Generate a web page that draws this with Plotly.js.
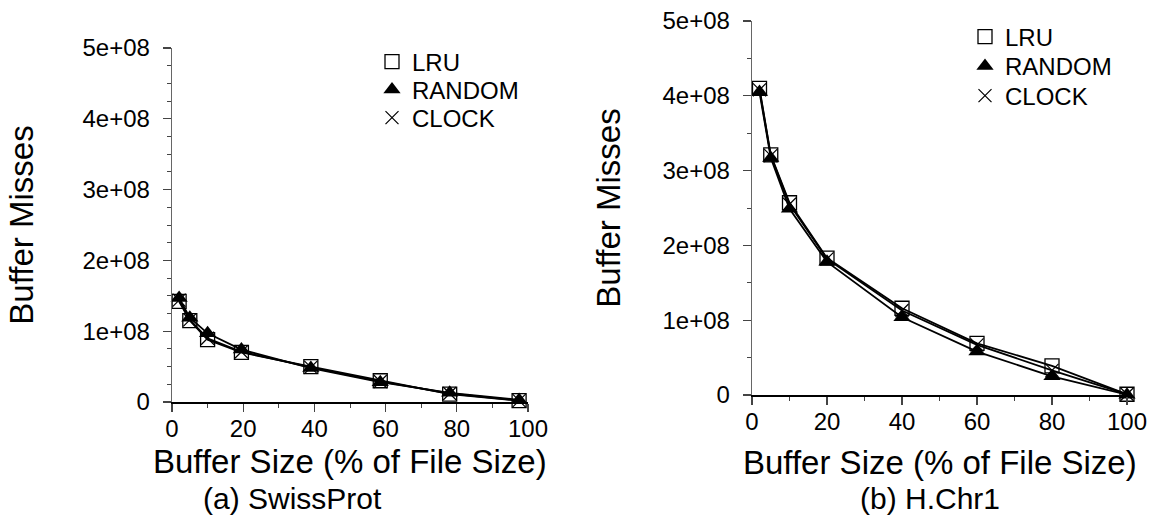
<!DOCTYPE html>
<html>
<head>
<meta charset="utf-8">
<script src="https://cdn.plot.ly/plotly-3.0.1.min.js"></script>
<style>html,body{margin:0;padding:0;background:#fff;}#chart{width:1160px;height:529px;}</style>
</head>
<body>
<div id="chart"></div>
<script>
// Panel (a) SwissProt
const swissX = [2, 5, 10, 19.5, 39, 58.5, 78, 97.5];
const swissLRU    = [1.42e8, 1.15e8, 0.88e8, 0.70e8, 0.50e8, 0.30e8, 0.11e8, 0.02e8];
const swissRANDOM = [1.47e8, 1.19e8, 0.97e8, 0.74e8, 0.48e8, 0.28e8, 0.13e8, 0.03e8];
const swissCLOCK  = [1.44e8, 1.16e8, 0.90e8, 0.71e8, 0.49e8, 0.29e8, 0.12e8, 0.02e8];
// Panel (b) H.Chr1
const chrX = [2, 5, 10, 20, 40, 60, 80, 100];
const chrLRU    = [4.10e8, 3.21e8, 2.57e8, 1.83e8, 1.16e8, 0.69e8, 0.39e8, 0.01e8];
const chrRANDOM = [4.05e8, 3.17e8, 2.49e8, 1.78e8, 1.04e8, 0.58e8, 0.25e8, 0.005e8];
const chrCLOCK  = [4.08e8, 3.20e8, 2.55e8, 1.82e8, 1.13e8, 0.67e8, 0.33e8, 0.01e8];

const seriesNames = ["LRU", "RANDOM", "CLOCK"];
const yTickVals = [0, 1e8, 2e8, 3e8, 4e8, 5e8];
const yTickText = ["0", "1e+08", "2e+08", "3e+08", "4e+08", "5e+08"];
const xTickVals = [0, 20, 40, 60, 80, 100];
const xTitle = "Buffer Size (% of File Size)";
const yTitle = "Buffer Misses";
const captions = ["(a) SwissProt", "(b) H.Chr1"];

const FONT = "Liberation Sans, Arial, Helvetica, sans-serif";
const markerStyles = {
  LRU: {symbol: "square-open", size: 14, color: "#000", line: {width: 1.3, color: "#000"}},
  RANDOM: {symbol: "triangle-up", size: 15, color: "#000", line: {width: 0, color: "#000"}},
  CLOCK: {symbol: "x-thin-open", size: 13, color: "#000", line: {width: 1.2, color: "#000"}}
};

function panelTraces(xs, ys, xa, ya, legendIds) {
  const out = [];
  seriesNames.forEach((n, i) => {
    out.push({
      x: xs, y: ys[i], xaxis: xa, yaxis: ya, type: "scatter", mode: "lines+markers",
      name: n, showlegend: false, line: {color: "#000", width: 1.8},
      marker: markerStyles[n], cliponaxis: false
    });
  });
  seriesNames.forEach((n, i) => {
    out.push({
      x: [null], y: [null], xaxis: xa, yaxis: ya, type: "scatter", mode: "markers",
      name: n, legend: legendIds[i], showlegend: true, marker: markerStyles[n]
    });
  });
  return out;
}

const data = [].concat(
  panelTraces(swissX, [swissLRU, swissRANDOM, swissCLOCK], "x", "y", ["legend", "legend2", "legend3"]),
  panelTraces(chrX, [chrLRU, chrRANDOM, chrCLOCK], "x2", "y2", ["legend4", "legend5", "legend6"])
);

function xAxis(domain, anchor) {
  return {
    domain: domain, anchor: anchor, range: [0, 100], tickmode: "array", tickvals: xTickVals,
    ticks: "outside", ticklen: 8, tickwidth: 1.2, tickcolor: "#444", ticklabelstandoff: -3,
    showline: true, linecolor: "#000", linewidth: 1.5, showgrid: false, zeroline: false,
    tickfont: {family: FONT, size: 24, color: "#000"},
    minor: {dtick: 10, ticks: "outside", ticklen: 4, tickwidth: 1, tickcolor: "#444", showgrid: false},
    automargin: false, fixedrange: true
  };
}
function yAxis(domain, anchor, minorStep, standoff) {
  return {
    domain: domain, anchor: anchor, range: [0, 5e8], tickmode: "array", tickvals: yTickVals, ticktext: yTickText,
    ticks: "outside", ticklen: 8, tickwidth: 1.2, tickcolor: "#444", ticklabelstandoff: 8,
    showline: true, linecolor: "#666", linewidth: 1.3, showgrid: false, zeroline: false,
    tickfont: {family: FONT, size: 24, color: "#000"},
    minor: {dtick: minorStep, ticks: "outside", ticklen: 4, tickwidth: 1, tickcolor: "#444", showgrid: false},
    title: {text: yTitle, font: {family: FONT, size: 33, color: "#000"}, standoff: standoff},
    automargin: false, fixedrange: true
  };
}

const W = 1160, H = 529;
function leg(xPx, yPx) {
  return {x: xPx / W, y: 1 - yPx / H, xanchor: "left", yanchor: "middle", bgcolor: "rgba(0,0,0,0)",
    font: {family: FONT, size: 24, color: "#000"}, itemwidth: 30, borderwidth: 0};
}
function note(text, xPx, yPx, size) {
  return {text: text, xref: "paper", yref: "paper", x: xPx / W, y: 1 - yPx / H, xanchor: "center", yanchor: "middle",
    showarrow: false, font: {family: FONT, size: size, color: "#000"}};
}
const layout = {
  width: W, height: H, margin: {l: 0, r: 0, t: 0, b: 0},
  paper_bgcolor: "#fff", plot_bgcolor: "#fff",
  font: {family: FONT, color: "#000"},
  xaxis: xAxis([172 / W, 528 / W], "y"),
  yaxis: yAxis([1 - 402 / H, 1 - 48 / H], "x", 0.25e8, 39),
  xaxis2: xAxis([752 / W, 1127 / W], "y2"),
  yaxis2: yAxis([1 - 395 / H, 1 - 21 / H], "x2", 0.5e8, 32),
  legend: leg(372, 62), legend2: leg(372, 90), legend3: leg(372, 118),
  legend4: leg(965, 37), legend5: leg(965, 66.5), legend6: leg(965, 96),
  annotations: [
    note(xTitle, 350, 461, 33),
    note(xTitle, 940, 462, 33),
    note(captions[0], 292, 498, 30),
    note(captions[1], 930, 498, 30)
  ]
};

Plotly.newPlot("chart", data, layout, {staticPlot: true, displayModeBar: false});
</script>
</body>
</html>
